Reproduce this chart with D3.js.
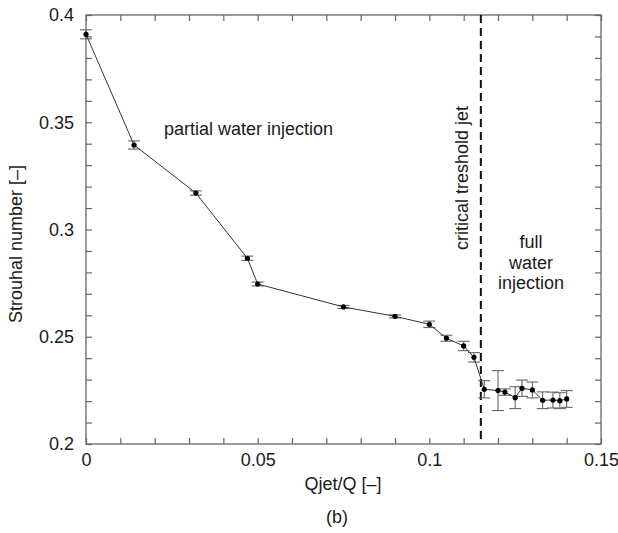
<!DOCTYPE html>
<html>
<head>
<meta charset="utf-8">
<script src="https://cdn.jsdelivr.net/npm/d3@7"></script>
<style>
  body { margin: 0; background: #fff; }
  svg text { font-family: "Liberation Sans", Arial, Helvetica, sans-serif; fill: #1a1a1a; }
</style>
</head>
<body>
<div id="chart"></div>
<script>
// data
const qjet = [0, 0.014, 0.032, 0.047, 0.050, 0.075, 0.090, 0.100, 0.105, 0.110, 0.113,
              0.116, 0.120, 0.122, 0.125, 0.127, 0.130, 0.133, 0.136, 0.138, 0.140];
const strouhal = [0.391, 0.3394, 0.317, 0.2866, 0.2746, 0.2639, 0.2595, 0.2558, 0.2493, 0.2457, 0.2404,
                  0.2255, 0.2249, 0.2242, 0.2216, 0.226, 0.2252, 0.2204, 0.2205, 0.2202, 0.221];
const errs = [0.0021, 0.0019, 0.001, 0.001, 0.0009, 0.0007, 0.0007, 0.0015, 0.0014, 0.0022, 0.0022,
              0.004, 0.0093, 0.0015, 0.0051, 0.0038, 0.0037, 0.0039, 0.0037, 0.0037, 0.0039];
const thresholdJet = 0.115;
const xTickLabels = [0, 0.05, 0.1, 0.15];
const yTickLabels = [0.2, 0.25, 0.3, 0.35, 0.4];

const width = 618, height = 533;
const mLeft = 86, mTop = 15, mRight = 601, mBottom = 444;

const svg = d3.select("#chart").append("svg")
  .attr("width", width).attr("height", height);

const x = d3.scaleLinear().domain([0, 0.15]).range([mLeft, mRight]);
const y = d3.scaleLinear().domain([0.2, 0.4]).range([mBottom, mTop]);

const xMinor = d3.range(0, 0.1501, 0.01);
const yMinor = d3.range(0.2, 0.4001, 0.01);
const isMajor = (list, v) => list.some(t => Math.abs(t - v) < 1e-6);
const fmt = v => String(+v.toFixed(3));
const tick = 6;
const axisColor = "#666";

// bottom / top
svg.append("g").attr("transform", `translate(0,${mBottom})`)
  .call(d3.axisBottom(x).tickValues(xMinor).tickSize(-tick).tickPadding(9)
    .tickFormat(v => isMajor(xTickLabels, v) ? fmt(v) : ""))
  .call(g => g.select(".domain").remove());
svg.append("g").attr("transform", `translate(0,${mTop})`)
  .call(d3.axisTop(x).tickValues(xMinor).tickSize(-tick).tickFormat(""))
  .call(g => g.select(".domain").remove());
// left / right
svg.append("g").attr("transform", `translate(${mLeft},0)`)
  .call(d3.axisLeft(y).tickValues(yMinor).tickSize(-tick).tickPadding(12)
    .tickFormat(v => isMajor(yTickLabels, v) ? fmt(v) : ""))
  .call(g => g.select(".domain").remove());
svg.append("g").attr("transform", `translate(${mRight},0)`)
  .call(d3.axisRight(y).tickValues(yMinor).tickSize(-tick).tickFormat(""))
  .call(g => g.select(".domain").remove());

svg.selectAll(".tick line").attr("stroke", axisColor).attr("stroke-width", 1.2);
svg.selectAll(".tick text").style("font-size", "18px").attr("fill", "#1a1a1a");

// frame
svg.append("rect")
  .attr("x", mLeft).attr("y", mTop)
  .attr("width", mRight - mLeft).attr("height", mBottom - mTop)
  .attr("fill", "none").attr("stroke", axisColor).attr("stroke-width", 1.3);

// threshold
svg.append("line")
  .attr("x1", x(thresholdJet)).attr("x2", x(thresholdJet))
  .attr("y1", y(0.4)).attr("y2", y(0.2))
  .attr("stroke", "#111").attr("stroke-width", 2)
  .attr("stroke-dasharray", "8,5");

const pts = qjet.map((q, i) => ({ q, s: strouhal[i], e: errs[i] }));

// error bars
const eb = svg.append("g").attr("stroke", "#666").attr("stroke-width", 1.1);
pts.forEach(d => {
  eb.append("line").attr("x1", x(d.q)).attr("x2", x(d.q)).attr("y1", y(d.s - d.e)).attr("y2", y(d.s + d.e));
  eb.append("line").attr("x1", x(d.q) - 6).attr("x2", x(d.q) + 6).attr("y1", y(d.s - d.e)).attr("y2", y(d.s - d.e));
  eb.append("line").attr("x1", x(d.q) - 6).attr("x2", x(d.q) + 6).attr("y1", y(d.s + d.e)).attr("y2", y(d.s + d.e));
});

// line
svg.append("path").datum(pts)
  .attr("fill", "none").attr("stroke", "#333").attr("stroke-width", 1)
  .attr("d", d3.line().x(d => x(d.q)).y(d => y(d.s)));

// points
svg.append("g").selectAll("circle").data(pts).enter()
  .append("circle")
  .attr("cx", d => x(d.q)).attr("cy", d => y(d.s)).attr("r", 2.6)
  .attr("fill", "#000");

// annotations
const txt = (s, xx, yy, anchor) => svg.append("text").attr("x", xx).attr("y", yy)
  .attr("text-anchor", anchor || "start").style("font-size", "18px").text(s);

txt("partial water injection", 164, 135);
txt("full", 531, 248, "middle");
txt("water", 531, 268.5, "middle");
txt("injection", 531, 289, "middle");

svg.append("text")
  .attr("transform", "translate(468,250) rotate(-90)")
  .style("font-size", "18px").text("critical treshold jet");

svg.append("text")
  .attr("transform", "translate(22,244) rotate(-90)")
  .attr("text-anchor", "middle")
  .style("font-size", "18px").text("Strouhal number [–]");

txt("Qjet/Q [–]", 343, 490, "middle");
txt("(b)", 337, 523, "middle");
</script>
</body>
</html>
